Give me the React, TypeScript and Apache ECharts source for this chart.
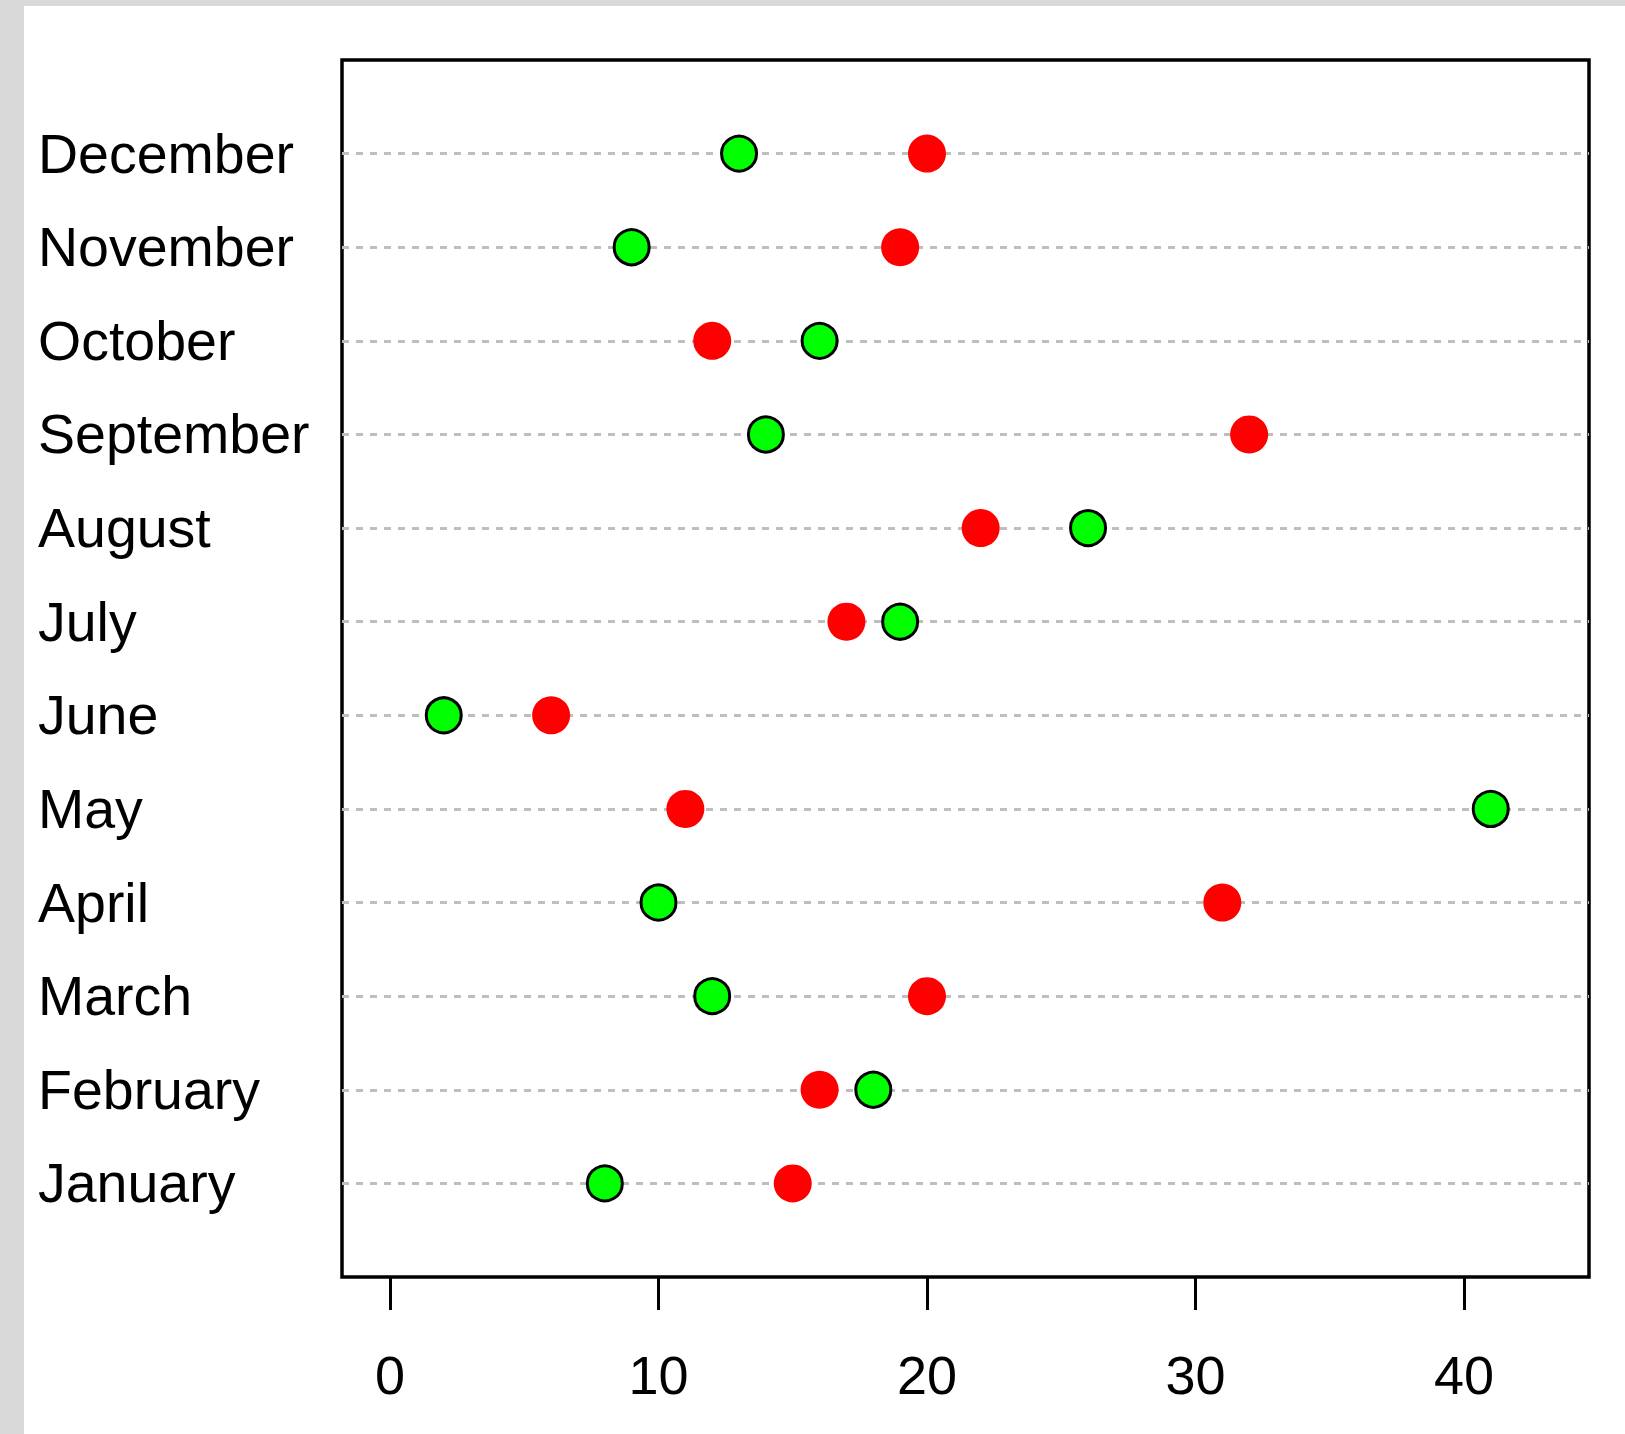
import React, { useEffect, useRef } from "react";
import * as echarts from "echarts";

const months = [
  "January", "February", "March", "April", "May", "June",
  "July", "August", "September", "October", "November", "December",
];
const greenValues = [8, 18, 12, 10, 41, 2, 19, 26, 14, 16, 9, 13];
const redValues = [15, 16, 20, 31, 11, 6, 17, 22, 32, 12, 19, 20];
const xTicks = [0, 10, 20, 30, 40];

const FONT = "'Liberation Sans', Arial, sans-serif";

export default function App() {
  const ref = useRef<HTMLDivElement>(null);
  useEffect(() => {
    if (!ref.current) return;
    const chart = echarts.init(ref.current, undefined, { renderer: "svg" });
    const option = {
      animation: false,
      backgroundColor: "#ffffff",
      grid: [
        {
          left: 318,
          right: 36,
          top: 54,
          bottom: 157,
          show: true,
          borderColor: "#000000",
          borderWidth: 3.5,
          backgroundColor: "transparent",
        },
        {
          left: 366,
          right: 161,
          top: 54,
          bottom: 157,
          show: false,
        },
      ],
      xAxis: [
        {
          type: "value",
          gridIndex: 0,
          min: -1.79,
          max: 44.66,
          show: false,
          splitLine: { show: false },
        },
        {
          type: "value",
          gridIndex: 1,
          min: xTicks[0],
          max: xTicks[xTicks.length - 1],
          interval: 10,
          position: "bottom",
          axisLine: { show: false },
          axisTick: {
            show: true,
            inside: false,
            length: 33,
            lineStyle: { color: "#000000", width: 3 },
          },
          splitLine: { show: false },
          axisLabel: {
            show: true,
            margin: 71,
            color: "#000000",
            fontSize: 54,
            fontFamily: FONT,
          },
        },
      ],
      yAxis: [
        {
          type: "value",
          gridIndex: 0,
          min: 0,
          max: 13,
          interval: 1,
          axisLine: { show: false },
          axisTick: { show: false },
          splitLine: { show: false },
          axisLabel: {
            show: true,
            align: "left",
            margin: 304,
            padding: [18, 0, 0, 0],
            color: "#000000",
            fontSize: 55.5,
            fontFamily: FONT,
            formatter: (v: number) => months[v - 1] || "",
          },
        },
        {
          type: "value",
          gridIndex: 1,
          min: 0,
          max: 13,
          show: false,
        },
      ],
      series: [
        {
          type: "scatter",
          xAxisIndex: 0,
          yAxisIndex: 0,
          data: [],
          z: 1,
          markLine: {
            z: 1,
            silent: true,
            symbol: ["none", "none"],
            label: { show: false },
            lineStyle: { color: "#bebebe", type: [7, 7], width: 3 },
            data: months.map((_, i) => ({ yAxis: i + 1 })),
          },
        },
        {
          name: "green",
          type: "scatter",
          xAxisIndex: 0,
          yAxisIndex: 0,
          z: 10,
          symbol: "circle",
          symbolSize: 35,
          itemStyle: { color: "#00ff00", borderColor: "#000000", borderWidth: 3, opacity: 1 },
          data: greenValues.map((v, i) => [v, i + 1]),
        },
        {
          name: "red",
          type: "scatter",
          xAxisIndex: 0,
          yAxisIndex: 0,
          z: 10,
          symbol: "circle",
          symbolSize: 38,
          itemStyle: { color: "#ff0000", opacity: 1 },
          data: redValues.map((v, i) => [v, i + 1]),
        },
      ],
    };
    chart.setOption(option as any);
    return () => chart.dispose();
  }, []);

  return (
    <div
      style={{
        position: "fixed",
        left: 0,
        top: 0,
        width: 1625,
        height: 1434,
        background: "#d9d9d9",
      }}
    >
      <div
        ref={ref}
        style={{
          position: "absolute",
          left: 24,
          top: 6,
          width: 1601,
          height: 1428,
          background: "#ffffff",
        }}
      />
    </div>
  );
}
